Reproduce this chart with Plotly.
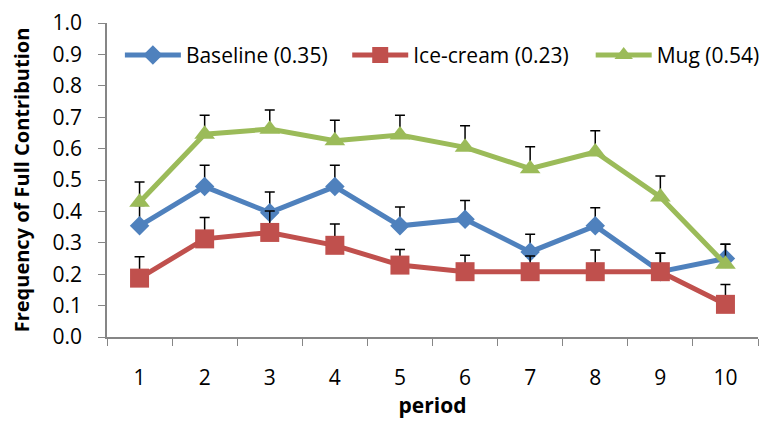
import plotly.graph_objects as go

periods = ["1", "2", "3", "4", "5", "6", "7", "8", "9", "10"]

baseline = [0.354, 0.479, 0.396, 0.479, 0.354, 0.375, 0.271, 0.354, 0.208, 0.25]
baseline_err = [0.065, 0.068, 0.066, 0.068, 0.06, 0.06, 0.056, 0.058, 0.059, 0.045]

icecream = [0.1875, 0.3125, 0.333, 0.292, 0.229, 0.208, 0.208, 0.208, 0.208, 0.104]
icecream_err = [0.068, 0.068, 0.068, 0.068, 0.05, 0.052, 0.05, 0.069, 0.059, 0.063]

mug = [0.429, 0.646, 0.662, 0.625, 0.643, 0.604, 0.536, 0.589, 0.446, 0.232]
mug_err = [0.065, 0.06, 0.061, 0.065, 0.063, 0.069, 0.07, 0.068, 0.067, 0.063]

names = ["Baseline (0.35)", "Ice-cream (0.23)", "Mug (0.54)"]
colors = ["#4F81BD", "#C0504D", "#9BBB59"]
symbols = ["diamond", "square", "triangle-up"]
sizes = [15, 19, 18]
legend_ids = ["legend", "legend2", "legend3"]
legend_x = [0.0198, 0.369, 0.743]

FONT = "Open Sans"

fig = go.Figure()
for name, ys, errs, col, sym, sz, lid in zip(names, [baseline, icecream, mug],
                                              [baseline_err, icecream_err, mug_err],
                                              colors, symbols, sizes, legend_ids):
    fig.add_trace(go.Scatter(
        x=periods, y=ys, name=name, mode="lines+markers", legend=lid,
        line=dict(color=col, width=5),
        marker=dict(symbol=sym, size=sz, color=col),
        error_y=dict(type="data", array=errs, arrayminus=[0] * len(errs),
                     symmetric=False, color="black", thickness=1.5, width=5),
    ))

legend_common = dict(orientation="h", y=0.897, xanchor="left", yanchor="middle",
                     font=dict(family=FONT, size=21), itemwidth=56,
                     bgcolor="rgba(0,0,0,0)")

fig.update_layout(
    width=767, height=422,
    margin=dict(l=99, r=10, t=15, b=93),
    paper_bgcolor="white", plot_bgcolor="white",
    font=dict(family=FONT, size=21, color="black"),
    showlegend=True,
    legend=dict(x=legend_x[0], **legend_common),
    legend2=dict(x=legend_x[1], **legend_common),
    legend3=dict(x=legend_x[2], **legend_common),
    xaxis=dict(type="category", range=[-0.5, 9.5], tickson="boundaries",
               ticks="outside", ticklen=7,
               tickcolor="#868686", showline=True, linecolor="#868686", linewidth=1.5,
               showgrid=False, ticklabelstandoff=21, automargin=False,
               ticklabeloverflow="allow",
               title=dict(text="<b>period</b>", standoff=8,
                          font=dict(family=FONT, size=21))),
    yaxis=dict(range=[0, 1], dtick=0.1, tickformat=".1f", ticks="outside", ticklen=7,
               tickcolor="#868686", showline=True, linecolor="#868686", linewidth=1.5,
               showgrid=False, zeroline=False, ticklabelstandoff=12, automargin=False,
               ticklabeloverflow="allow",
               title=dict(text="<b>Frequency of Full Contribution</b>", standoff=21,
                          font=dict(family=FONT, size=20))),
)

fig.write_html("out.html")
